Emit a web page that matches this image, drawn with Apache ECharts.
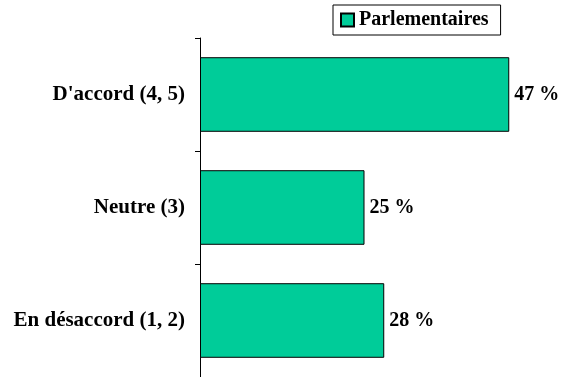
<!DOCTYPE html>
<html><head><meta charset="utf-8">
<script src="https://cdn.jsdelivr.net/npm/echarts@6/dist/echarts.min.js"></script>
<style>html,body{margin:0;padding:0;background:#fff}#c{width:561px;height:377px}</style>
</head><body><div id="c"></div>
<script>
const categories = ["D'accord (4, 5)", "Neutre (3)", "En désaccord (1, 2)"];
const seriesName = "Parlementaires";
const values = [47, 25, 28];
const FONT = "'Liberation Serif', 'Times New Roman', serif";
const chart = echarts.init(document.getElementById('c'));
chart.setOption({
  animation: false,
  backgroundColor: '#fff',
  grid: { left: 200, right: 32, top: 38, bottom: 0, containLabel: false },
  legend: {
    left: 333, top: 5,
    data: [seriesName],
    borderColor: '#000', borderWidth: 1,
    padding: [5, 12, 5, 7],
    itemWidth: 13, itemHeight: 13, itemGap: 5,
    icon: 'rect',
    textStyle: { fontFamily: FONT, fontWeight: 'bold', fontSize: 20, color: '#000', padding: [0, 0, 0, 0] }
  },
  xAxis: { type: 'value', min: 0, max: 50, show: false },
  yAxis: {
    type: 'category', data: categories, inverse: true,
    axisLine: { show: true, lineStyle: { color: '#000', width: 1 } },
    axisTick: { show: true, length: 5, lineStyle: { color: '#000' } },
    axisLabel: { margin: 15, fontFamily: FONT, fontWeight: 'bold', fontSize: 21, color: '#000' },
    splitLine: { show: false }
  },
  series: [{
    name: seriesName, type: 'bar', data: values,
    barCategoryGap: '34%',
    itemStyle: { color: '#00CC99', borderColor: '#000', borderWidth: 1 },
    label: { show: true, position: 'right', distance: 5, formatter: '{c} %',
      fontFamily: FONT, fontWeight: 'bold', fontSize: 20, color: '#000' }
  }]
});
</script></body></html>
